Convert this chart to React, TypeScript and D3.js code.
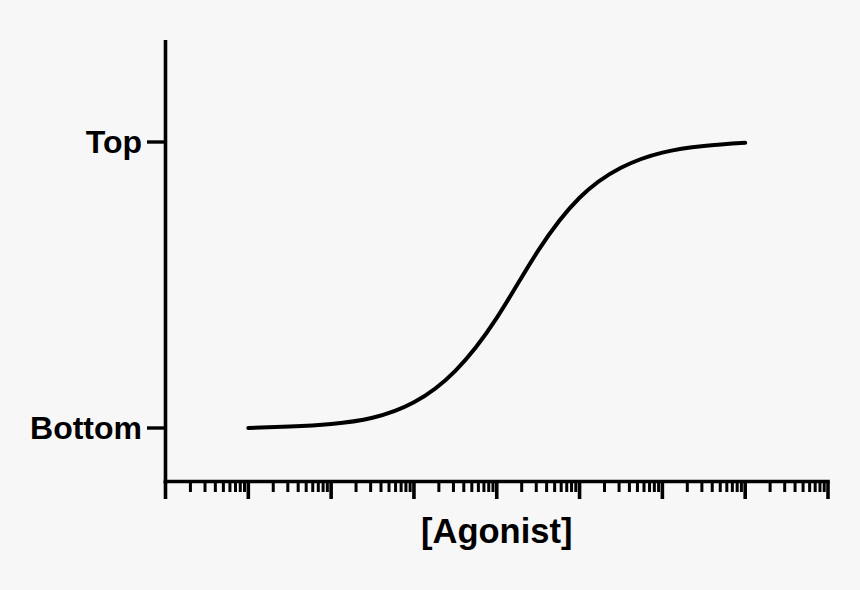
import * as d3 from "d3";

const logConc = [-9, -8.5, -8, -7.5, -7, -6.5, -6, -5.5, -5, -4.5, -4, -3.5, -3];
const response = [0, 0.5, 1.4, 3.6, 9, 20, 38.5, 62, 80.5, 91, 96.3, 98.6, 99.7];

const yTickValues = [0, 100];
const yTickLabels = ["Bottom", "Top"];
const decades = [-10, -9, -8, -7, -6, -5, -4, -3];
const xLabel = "[Agonist]";

const W = 860;
const H = 590;

export default function App() {
  const x = d3.scaleLinear().domain([-10, -2]).range([165.5, 828]);
  const y = d3.scaleLinear().domain([0, 100]).range([428, 142]);
  const axisY = 481.5;

  const minor: number[] = [];
  const major: number[] = [];
  decades.forEach((d) => {
    major.push(d);
    for (let k = 2; k <= 9; k++) minor.push(d + Math.log10(k));
  });
  major.push(-2);

  const line = d3
    .line<number>()
    .x((_, i) => x(logConc[i]))
    .y((d) => y(d))
    .curve(d3.curveNatural);

  const font = "'Liberation Sans', Arial, sans-serif";

  return (
    <svg width={W} height={H} style={{ position: "absolute", left: 0, top: 0 }}>
      <rect width={W} height={H} fill="#f7f7f7" />
      {/* y axis */}
      <line x1={x(-10)} x2={x(-10)} y1={40} y2={axisY + 2} stroke="#000" strokeWidth={3.6} />
      {yTickValues.map((v, i) => (
        <g key={v}>
          <line x1={147} x2={x(-10)} y1={y(v)} y2={y(v)} stroke="#000" strokeWidth={3.4} />
          <text
            x={142}
            y={y(v)}
            dy="0.35em"
            textAnchor="end"
            fontFamily={font}
            fontWeight="bold"
            fontSize={32}
          >
            {yTickLabels[i]}
          </text>
        </g>
      ))}
      {/* x axis */}
      <line x1={x(-10) - 1.8} x2={x(-2) + 1.8} y1={axisY} y2={axisY} stroke="#000" strokeWidth={3.6} />
      {major.map((v) => (
        <line key={"M" + v} x1={x(v)} x2={x(v)} y1={axisY} y2={499} stroke="#000" strokeWidth={3.6} />
      ))}
      {minor.map((v) => (
        <line key={"m" + v} x1={x(v)} x2={x(v)} y1={axisY} y2={492} stroke="#000" strokeWidth={3} />
      ))}
      <text
        x={(x(-10) + x(-2)) / 2}
        y={543}
        textAnchor="middle"
        fontFamily={font}
        fontWeight="bold"
        fontSize={34.5}
      >
        {xLabel}
      </text>
      {/* dose-response curve */}
      <path
        d={line(response) || ""}
        fill="none"
        stroke="#000"
        strokeWidth={4}
        strokeLinecap="round"
      />
    </svg>
  );
}
